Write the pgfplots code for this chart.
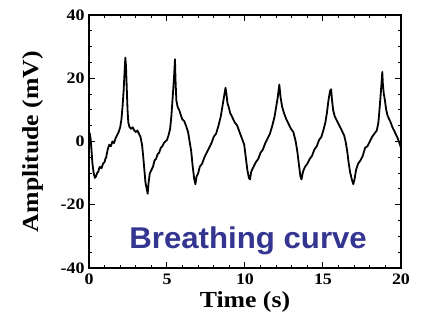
\documentclass[border=0pt]{standalone}
\usepackage{fontspec}
\setmainfont{Liberation Serif}[FakeStretch=1.12]
\newfontfamily\arialb{Liberation Sans}[FakeStretch=1.04]
\usepackage{pgfplots}
\pgfplotsset{compat=1.18}
\definecolor{bcblue}{RGB}{52,52,145}
\begin{document}
\begin{tikzpicture}
\useasboundingbox (-89pt,-52pt) rectangle (332pt,268pt);
\begin{axis}[
  scale only axis, width=312pt, height=253pt,
  xmin=0, xmax=20, ymin=-40, ymax=40,
  xtick={0,5,10,15,20}, ytick={-40,-20,0,20,40},
  minor x tick num=4, minor y tick num=3,
  tick align=inside, major tick length=6pt, minor tick length=3pt,
  axis line style={line width=1.3pt}, every tick/.style={line width=1pt,black},
  /pgf/number format/assume math mode=true,
  ticklabel style={font=\fontsize{16}{18}\selectfont\bfseries},
  xticklabel style={yshift=-2pt},
  yticklabel style={xshift=-1pt},
  xlabel={Time (s)}, ylabel={Amplitude (mV)},
  label style={font=\fontsize{23}{26}\selectfont\bfseries},
  xlabel style={at={(axis description cs:0.5,-0.135)},anchor=center},
  ylabel style={at={(axis description cs:-0.18,0.5)},anchor=center},
  clip=true,
]
\addplot[black, line width=1.8pt, line join=round] coordinates {
(0.00,3) (0.05,2.5) (0.10,1) (0.15,-2) (0.22,-7) (0.30,-10) (0.38,-11.5) (0.45,-11) (0.52,-10)
(0.60,-9.5) (0.65,-8.5) (0.70,-8) (0.80,-8.5) (0.90,-7) (1.00,-6.5) (1.05,-5.5) (1.10,-5) (1.20,-2.5)
(1.30,-1) (1.40,-1.5) (1.50,0) (1.60,-0.5) (1.70,1) (1.80,2) (1.90,3) (2.00,4.5)
(2.08,7) (2.15,11) (2.22,16) (2.28,22) (2.33,26.5) (2.37,24) (2.42,17) (2.47,10) (2.52,6)
(2.60,4.5) (2.70,4) (2.80,4.5) (2.90,3.5) (3.00,3) (3.10,3.5) (3.20,2.5) (3.30,1.5)
(3.40,-1) (3.48,-5) (3.55,-9) (3.62,-13) (3.70,-15) (3.76,-16.5) (3.82,-13) (3.90,-10)
(4.00,-9) (4.10,-8) (4.20,-6) (4.30,-5.5) (4.40,-4) (4.50,-3.5) (4.60,-2) (4.70,-1.5)
(4.80,-0.5) (4.90,0) (5.00,0.5) (5.10,2) (5.20,4) (5.28,8) (5.35,13) (5.42,18) (5.47,22)
(5.51,26) (5.55,19) (5.60,13) (5.68,11) (5.78,10) (5.88,8.5) (5.98,7) (6.10,6.5) (6.22,5)
(6.35,3) (6.45,0) (6.55,-3) (6.65,-8) (6.75,-12) (6.82,-13.5) (6.90,-11) (7.00,-10)
(7.10,-8) (7.25,-7) (7.40,-5) (7.55,-3.5) (7.70,-2) (7.85,-0.5) (8.00,1.5) (8.15,2.5)
(8.30,5) (8.45,8) (8.55,11) (8.65,14) (8.75,17) (8.80,15.5) (8.88,12) (8.95,11)
(9.05,9) (9.20,7.5) (9.35,6) (9.50,5) (9.65,3) (9.80,1) (9.95,-1) (10.05,-5) (10.15,-9)
(10.25,-11.5) (10.32,-12) (10.40,-9.5) (10.55,-8) (10.70,-6.5) (10.85,-5.5) (11.00,-3.5)
(11.15,-2.5) (11.30,-0.5) (11.45,1) (11.60,2.5) (11.75,5) (11.90,8) (12.00,11) (12.10,14)
(12.20,18) (12.28,14) (12.38,11) (12.50,9) (12.65,7) (12.80,5.5) (12.95,4) (13.10,3)
(13.25,0) (13.35,-3) (13.45,-7) (13.55,-11) (13.62,-12) (13.72,-9.5) (13.85,-8) (14.00,-7)
(14.15,-5.5) (14.30,-4.5) (14.45,-2.5) (14.60,-1.5) (14.75,0.5) (14.90,1.5) (15.05,4) (15.15,6)
(15.25,9) (15.35,13) (15.45,16) (15.52,16.5) (15.58,13) (15.65,10) (15.75,8) (15.90,6.5)
(16.05,5) (16.20,3.5) (16.35,2) (16.45,0) (16.55,-3) (16.65,-7) (16.75,-10) (16.85,-12)
(16.94,-13.5) (17.02,-12) (17.12,-9) (17.25,-7) (17.40,-6) (17.55,-4.5) (17.70,-2) (17.85,-1.5)
(18.00,0) (18.15,1.5) (18.30,2.5) (18.45,3.5) (18.55,6) (18.62,10) (18.70,15) (18.76,19)
(18.80,22) (18.84,18) (18.90,15) (18.97,13) (19.05,10) (19.15,8) (19.30,6.5) (19.45,4.5)
(19.60,3) (19.75,1.5) (19.90,-0.5) (20.00,-2)
};
\node[anchor=base, text=bcblue, font=\arialb\fontsize{30}{33}\selectfont\bfseries] at (axis cs:10.2,-33.7) {Breathing curve};
\end{axis}
\end{tikzpicture}
\end{document}
